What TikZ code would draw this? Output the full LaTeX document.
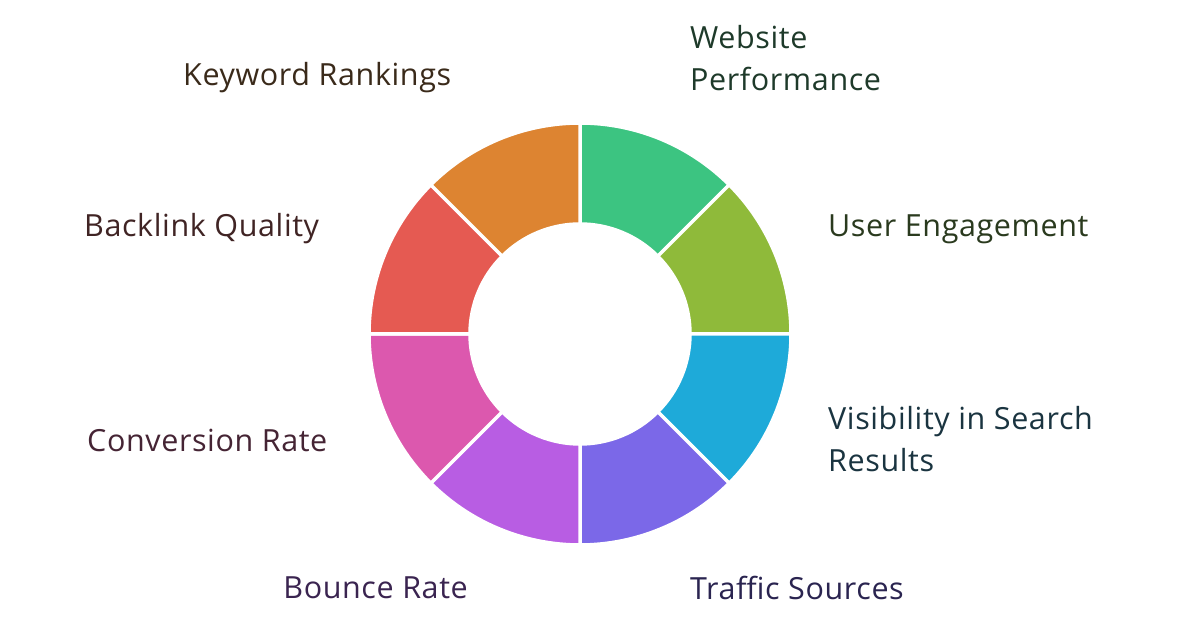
\documentclass[tikz,border=0pt]{standalone}
\usepackage{fontspec}
\setmainfont{Open Sans}[LetterSpace=2]
\usetikzlibrary{calc}
\begin{document}
\begin{tikzpicture}[x=1pt,y=1pt,
  seg/.style={draw=white,line width=3.5pt,line join=round},
  lbl/.style={font=\fontsize{30.5}{42}\selectfont,inner sep=0pt,align=left}]
\useasboundingbox[fill=white] (0,0) rectangle (1200,628);
\coordinate (c) at (580,294);
\def\Ro{211}\def\Ri{110}
\foreach \a/\col in {90/3CC481,45/8FBA3A,0/1EAAD9,-45/7B68E8,-90/B85DE3,-135/DC58AE,180/E55A52,135/DD8431}{
  \definecolor{sc}{HTML}{\col}
  \fill[sc,seg] ($(c)+(\a:\Ro)$) arc[start angle=\a,end angle=\a-45,radius=\Ro]
    -- ($(c)+(\a-45:\Ri)$) arc[start angle=\a-45,end angle=\a,radius=\Ri] -- cycle;
}
\definecolor{t1}{HTML}{3A2A1A}\definecolor{t2}{HTML}{1E3A2A}\definecolor{t3}{HTML}{2A3A1E}
\definecolor{t4}{HTML}{1A3440}\definecolor{t5}{HTML}{2A2450}\definecolor{t6}{HTML}{3A2450}
\definecolor{t7}{HTML}{452434}\definecolor{t8}{HTML}{402424}
\node[lbl,anchor=west,text=t1] (kr) at (183,550) {Keyword Rankings};
\node[lbl,anchor=west,text=t2] (wp) at (690,570) {Website\\Performance};
\node[lbl,anchor=west,text=t3] (ue) at (828,399) {User Engagement};
\node[lbl,anchor=west,text=t4] (vs) at (828,189) {Visibility in Search\\Results};
\node[lbl,anchor=west,text=t5] (ts) at (690,40) {Traffic Sources};
\node[lbl,anchor=east,text=t6] (br) at (468,40) {Bounce Rate};
\node[lbl,anchor=west,text=t7] (cr) at (87,188) {Conversion Rate};
\node[lbl,anchor=west,text=t8] (bq) at (84,399) {Backlink Quality};
\end{tikzpicture}
\end{document}
